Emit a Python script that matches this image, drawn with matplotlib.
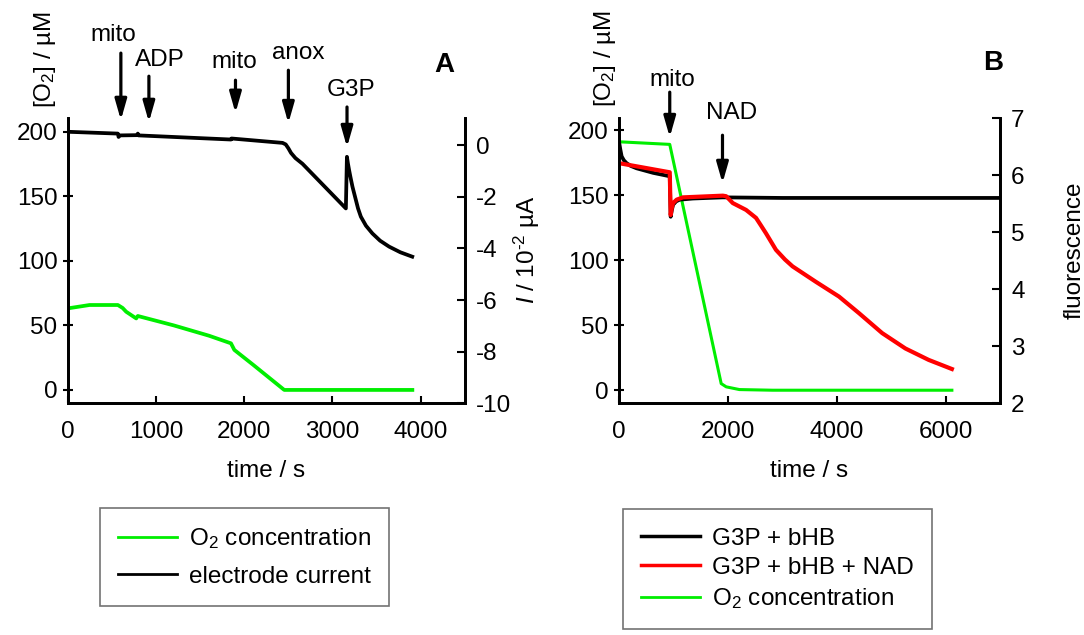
import matplotlib
matplotlib.use('Agg')
import matplotlib.pyplot as plt
from matplotlib.lines import Line2D

plt.rcParams['font.family'] = ['Liberation Sans', 'DejaVu Sans']
plt.rcParams['mathtext.fontset'] = 'custom'
plt.rcParams['mathtext.rm'] = 'Liberation Sans'
plt.rcParams['mathtext.it'] = 'Liberation Sans:italic'
plt.rcParams['axes.unicode_minus'] = False
plt.rcParams['font.size'] = 17.5

GREEN = '#00ee00'

# --- panel A: O2 concentration (left axis, uM) ---
time_a_o2 = [0, 245, 566, 620, 660, 774, 792, 1200, 1600, 1849, 1887, 2100, 2453, 2800, 3300, 3906]
o2_a = [63.2, 65.8, 65.8, 63.5, 60.6, 55.4, 57.3, 50.0, 42.0, 36.1, 31.0, 19.5, 0.0, 0.0, 0.0, 0.0]

# --- panel A: electrode current (right axis, 10^-2 uA) ---
time_a_cur = [0, 566, 574, 592, 790, 792, 800, 1849, 1855, 2434, 2470, 2500, 2530, 2580, 2660,
              3152, 3164, 3175, 3189, 3205, 3227, 3260, 3290, 3322, 3380, 3453, 3540, 3642, 3770, 3905]
cur_a = [0.52, 0.45, 0.32, 0.38, 0.39, 0.45, 0.38, 0.22, 0.26, 0.09, 0.03, -0.12, -0.30, -0.50, -0.72,
         -2.45, -0.45, -0.70, -0.97, -1.25, -1.61, -2.05, -2.45, -2.77, -3.12, -3.42, -3.70, -3.93, -4.15, -4.32]

# --- panel B: O2 concentration (left axis, uM) ---
time_b_o2 = [0, 933, 1878, 1970, 2213, 2823, 6116]
o2_b = [191, 189, 5.1, 2.6, 0.5, 0.0, 0.0]

# --- panel B: fluorescence (right axis) ---
time_b_hb = [0, 25, 49, 90, 140, 220, 323, 628, 933, 950, 970, 994, 1050, 1116, 1360, 1908, 3000, 4500, 6970]
fl_hb = [6.59, 6.45, 6.33, 6.26, 6.21, 6.16, 6.12, 6.04, 5.98, 5.27, 5.38, 5.48, 5.54, 5.57, 5.59, 5.61,
         5.60, 5.60, 5.60]

time_b_nad = [0, 933, 950, 970, 994, 1060, 1177, 1908, 1970, 2091, 2335, 2518, 2600, 2701, 2884, 3050,
              3189, 3616, 4043, 4409, 4835, 5262, 5689, 6116]
fl_nad = [6.21, 6.05, 5.30, 5.42, 5.51, 5.57, 5.61, 5.64, 5.63, 5.51, 5.39, 5.25, 5.13, 4.98, 4.69, 4.52,
          4.40, 4.13, 3.87, 3.58, 3.23, 2.96, 2.76, 2.60]

# additions (label, arrow time)
events_a = ['mito', 'ADP', 'mito', 'anox', 'G3P']
events_a_t = [600, 918, 1900, 2500, 3165]
events_b = ['mito', 'NAD']
events_b_t = [933, 1902]


def style_axes(ax, ax2):
    for a in (ax, ax2):
        a.spines['top'].set_visible(False)
        for s in ('left', 'right', 'bottom'):
            a.spines[s].set_linewidth(2)
    ax.tick_params(axis='x', direction='in', length=5, width=1.5, pad=13)
    ax.tick_params(axis='y', direction='inout', length=7, width=1.5, pad=4)
    ax2.tick_params(axis='y', direction='in', length=6, width=1.5, pad=8)
    ax.set_xlabel('time / s', labelpad=12)


def add_arrow(ax, t, tip, tail):
    ax.annotate('', xy=(t, tip), xytext=(t, tail),
                xycoords=ax.get_xaxis_transform(), textcoords=ax.get_xaxis_transform(),
                arrowprops=dict(arrowstyle='-|>,head_length=0.7,head_width=0.2',
                                color='black', lw=2.3, shrinkA=0, shrinkB=0),
                annotation_clip=False)


fig = plt.figure(figsize=(10.84, 6.35), dpi=100)

# ---------------- panel A ----------------
axA = fig.add_axes([0.0627, 0.365, 0.366, 0.449])
axA2 = axA.twinx()
axA.plot(time_a_o2, o2_a, color=GREEN, lw=2.7)
axA2.plot(time_a_cur, cur_a, color='black', lw=2.7)
axA.set_xlim(0, 4500)
axA.set_ylim(-10.3, 210.6)
axA2.set_ylim(-10, 1.05)
axA.set_xticks([0, 1000, 2000, 3000, 4000])
axA.set_yticks([0, 50, 100, 150, 200])
axA2.set_yticks([0, -2, -4, -6, -8, -10])
style_axes(axA, axA2)
axA.text(-0.058, 1.204, '[O$_2$] / µM', rotation=90, ha='center', va='center',
         transform=axA.transAxes)
axA2.text(1.156, 0.537, '$I$ / 10$^{\\text{-}2}$ µA', rotation=90, ha='center', va='center',
          transform=axA2.transAxes)
axA.text(4265, 1.186, 'A', fontsize=20, fontweight='bold', ha='center', va='center',
         transform=axA.get_xaxis_transform())

tips_a = [0.993, 0.986, 1.018, 0.982, 0.898]
tails_a = [1.228, 1.147, 1.133, 1.168, 1.039]
text_a_x = [510, 1041, 1890, 2613, 3213]
text_a_y = [1.291, 1.204, 1.196, 1.228, 1.098]
for lab, t, tip, tail, tx, ty in zip(events_a, events_a_t, tips_a, tails_a, text_a_x, text_a_y):
    add_arrow(axA, t, tip, tail)
    axA.text(tx, ty, lab, ha='center', va='center', transform=axA.get_xaxis_transform())

handles_a = [Line2D([], [], color=GREEN, lw=2), Line2D([], [], color='black', lw=2)]
labels_a = ['O$_2$ concentration', 'electrode current']
legA = axA.legend(handles_a, labels_a, loc='upper left', bbox_to_anchor=(0.081, -0.368),
                  borderaxespad=0, fancybox=False, edgecolor='0.45', handlelength=2.4,
                  handletextpad=0.5, labelspacing=0.6, borderpad=0.75, framealpha=1)
legA.get_frame().set_linewidth(1.2)

# ---------------- panel B ----------------
axB = fig.add_axes([0.571, 0.365, 0.3515, 0.449])
axB2 = axB.twinx()
axB.plot(time_b_o2, o2_b, color=GREEN, lw=2.2)
axB2.plot(time_b_hb, fl_hb, color='black', lw=2.7)
axB2.plot(time_b_nad, fl_nad, color='red', lw=3)
axB.set_xlim(0, 7000)
axB.set_ylim(-10, 209.2)
axB2.set_ylim(2, 7)
axB.set_xticks([0, 2000, 4000, 6000])
axB.set_yticks([0, 50, 100, 150, 200])
axB2.set_yticks([2, 3, 4, 5, 6, 7])
style_axes(axB, axB2)
axB.text(-0.037, 1.21, '[O$_2$] / µM', rotation=90, ha='center', va='center',
         transform=axB.transAxes)
axB2.text(1.195, 0.537, 'fluorescence', rotation=90, ha='center', va='center',
          transform=axB2.transAxes)
axB.text(6878, 1.193, 'B', fontsize=20, fontweight='bold', ha='center', va='center',
         transform=axB.get_xaxis_transform())

tips_b = [0.933, 0.772]
tails_b = [1.091, 0.940]
text_b_x = [988, 2067]
text_b_y = [1.133, 1.018]
for lab, t, tip, tail, tx, ty in zip(events_b, events_b_t, tips_b, tails_b, text_b_x, text_b_y):
    add_arrow(axB, t, tip, tail)
    axB.text(tx, ty, lab, ha='center', va='center', transform=axB.get_xaxis_transform())

handles_b = [Line2D([], [], color='black', lw=2.5), Line2D([], [], color='red', lw=2.5),
             Line2D([], [], color=GREEN, lw=2)]
labels_b = ['G3P + bHB', 'G3P + bHB + NAD', 'O$_2$ concentration']
legB = axB.legend(handles_b, labels_b, loc='upper left', bbox_to_anchor=(0.0105, -0.372),
                  borderaxespad=0, fancybox=False, edgecolor='0.45', handlelength=2.4,
                  handletextpad=0.5, labelspacing=0.3, borderpad=0.75, framealpha=1)
legB.get_frame().set_linewidth(1.2)

fig.savefig('out.png', dpi=100)
